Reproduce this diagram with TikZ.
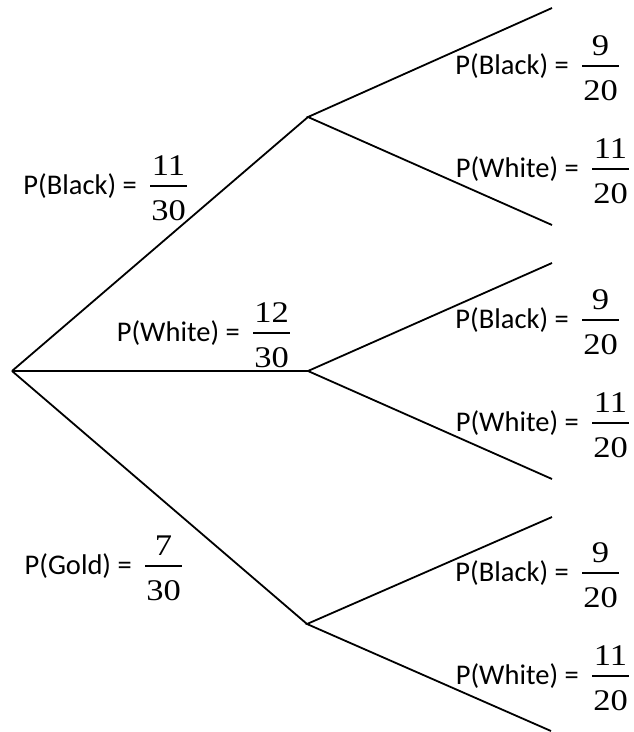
\documentclass[tikz,border=0pt]{standalone}
\usepackage{fontspec}
\usepackage{graphicx}
\setmainfont{Carlito}
\newfontfamily\digitfont{Liberation Serif}
\usetikzlibrary{calc}

% fraction digits, a little wider than the plain serif face
\newcommand\widedigits[1]{\scalebox{1.15}[1]{#1}}

% A probability label: text, then a stacked fraction whose bar sits at (#2,#3)
% #1 name, #2 bar x, #3 bar y, #4 text, #5 numerator, #6 denominator
\newcommand\problabel[6]{%
  \coordinate (#1bar) at (#2,#3);
  \node[lbl, anchor=base east] (#1txt) at ($(#1bar)+(-13,8)$) {#4};
  \node[digits, anchor=base] (#1num) at ($(#1bar)+(18.5,-11)$) {\widedigits{#5}};
  \node[digits, anchor=base] (#1den) at ($(#1bar)+(18.5,34)$) {\widedigits{#6}};
  \draw[fracbar] (#1bar) -- ($(#1bar)+(37,0)$);
}

\begin{document}
\begin{tikzpicture}[x=1pt, y=-1pt,
  branch/.style={line width=1.8pt, black},
  lbl/.style={inner sep=0pt, font=\fontsize{28.5}{34}\selectfont},
  digits/.style={inner sep=0pt, font=\fontsize{30}{34}\selectfont\digitfont},
  fracbar/.style={line width=1.3pt, black}]
\useasboundingbox (0,0) rectangle (633,732);

% tree points
\coordinate (root) at (12,371);
\coordinate (jB) at (308,117);
\coordinate (jW) at (308,371);
\coordinate (jG) at (307,624);
\coordinate (lBB) at (552,8);
\coordinate (lBW) at (552,225);
\coordinate (lWB) at (552,263);
\coordinate (lWW) at (552,479);
\coordinate (lGB) at (552,517);
\coordinate (lGW) at (551,731);

% branches
\draw[branch] (root) -- (jB);
\draw[branch] (root) -- (jW);
\draw[branch] (root) -- (jG);
\draw[branch] (lBB) -- (jB) -- (lBW);
\draw[branch] (lWB) -- (jW) -- (lWW);
\draw[branch] (lGB) -- (jG) -- (lGW);

% first draw
\problabel{pB}{150}{186}{P(Black) =}{11}{30}
\problabel{pW}{253}{333}{P(White) =}{12}{30}
\problabel{pG}{145}{566}{P(Gold) =}{7}{30}

% second draw
\problabel{pBB}{582}{66}{P(Black) =}{9}{20}
\problabel{pBW}{592}{169}{P(White) =}{11}{20}
\problabel{pWB}{582}{320}{P(Black) =}{9}{20}
\problabel{pWW}{592}{423}{P(White) =}{11}{20}
\problabel{pGB}{582}{573}{P(Black) =}{9}{20}
\problabel{pGW}{592}{676}{P(White) =}{11}{20}
\end{tikzpicture}
\end{document}
